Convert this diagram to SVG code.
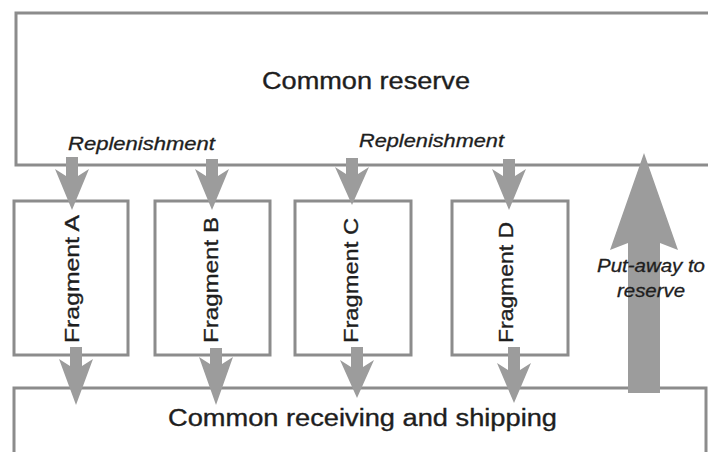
<svg xmlns="http://www.w3.org/2000/svg" width="708" height="452" viewBox="0 0 708 452">
  <defs>
    <style>
      .box { fill: #ffffff; stroke: #8c8c8c; stroke-width: 3; }
      .flow { fill: #9c9c9c; stroke: none; }
      .title { font-family: "Liberation Sans", Arial, sans-serif; font-size: 23px; fill: #1e1e1e; stroke: #1e1e1e; stroke-width: 0.35; }
      .frag { font-family: "Liberation Sans", Arial, sans-serif; font-size: 21px; fill: #1e1e1e; stroke: #1e1e1e; stroke-width: 0.35; }
      .note { font-family: "Liberation Sans", Arial, sans-serif; font-size: 18px; font-style: italic; fill: #1e1e1e; stroke: #1e1e1e; stroke-width: 0.3; }
    </style>
  </defs>

  <rect width="708" height="452" fill="#ffffff"/>

  <!-- shared reserve storage along the top -->
  <g id="common-reserve">
    <rect class="box" x="16" y="13" width="700" height="152"/>
    <text class="title" x="262" y="89" textLength="208" lengthAdjust="spacingAndGlyphs">Common reserve</text>
  </g>

  <!-- shared dock along the bottom -->
  <g id="common-receiving-shipping">
    <rect class="box" x="14" y="388" width="692" height="80"/>
    <text class="title" x="168" y="426" textLength="389" lengthAdjust="spacingAndGlyphs">Common receiving and shipping</text>
  </g>

  <!-- forward pick fragments -->
  <g id="fragment-a">
    <rect class="box" x="14" y="201" width="114" height="154"/>
    <text class="frag" transform="translate(79,343) rotate(-90)" textLength="128" lengthAdjust="spacingAndGlyphs">Fragment A</text>
  </g>
  <g id="fragment-b">
    <rect class="box" x="155" y="201" width="115" height="154"/>
    <text class="frag" transform="translate(218,343) rotate(-90)" textLength="126" lengthAdjust="spacingAndGlyphs">Fragment B</text>
  </g>
  <g id="fragment-c">
    <rect class="box" x="295" y="201" width="116" height="154"/>
    <text class="frag" transform="translate(358,343) rotate(-90)" textLength="125" lengthAdjust="spacingAndGlyphs">Fragment C</text>
  </g>
  <g id="fragment-d">
    <rect class="box" x="452" y="201" width="116" height="154"/>
    <text class="frag" transform="translate(513,343) rotate(-90)" textLength="121" lengthAdjust="spacingAndGlyphs">Fragment D</text>
  </g>

  <!-- material flows -->
  <g id="connectors">
    <!-- replenishment: reserve down into each fragment -->
    <polygon class="flow" points="66,157 66,176 55,169 72,210 89,169 78,176 78,157"/>
    <polygon class="flow" points="206,159 206,176 195,169 212,210 229,169 218,176 218,159"/>
    <polygon class="flow" points="346,158 346,174 335,167 352,205 369,167 358,174 358,158"/>
    <polygon class="flow" points="503,159 503,176 492,169 509,210 526,169 515,176 515,159"/>
    <!-- picks: each fragment down to shipping -->
    <polygon class="flow" points="70,347 70,366 59,359 76,405 93,359 82,366 82,347"/>
    <polygon class="flow" points="210,348 210,364 199,357 216,405 233,357 222,364 222,348"/>
    <polygon class="flow" points="351,347 351,367 340,360 357,398 374,360 363,367 363,347"/>
    <polygon class="flow" points="508,347 508,370 497,363 514,403 531,363 520,370 520,347"/>
    <!-- put-away: receiving up to reserve -->
    <polygon class="flow" points="628,393 628,243 610,250 644,153 678,250 660,243 660,393"/>
  </g>

  <!-- flow labels -->
  <g id="labels">
    <text class="note" x="68" y="150" textLength="147" lengthAdjust="spacingAndGlyphs">Replenishment</text>
    <text class="note" x="359" y="147" textLength="145" lengthAdjust="spacingAndGlyphs">Replenishment</text>
    <text class="note" x="597" y="272" textLength="108" lengthAdjust="spacingAndGlyphs">Put-away to</text>
    <text class="note" x="617" y="297" textLength="68" lengthAdjust="spacingAndGlyphs">reserve</text>
  </g>
</svg>
